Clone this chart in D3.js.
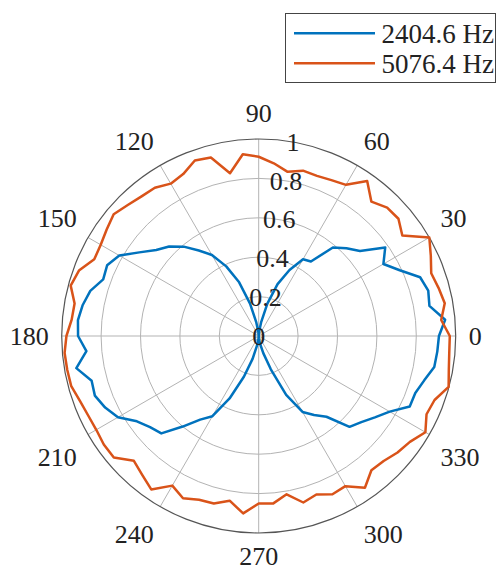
<!DOCTYPE html>
<html>
<head>
<meta charset="utf-8">
<script src="https://cdn.jsdelivr.net/npm/d3@7"></script>
<style>
  html, body { margin: 0; padding: 0; background: #fff; }
  svg { display: block; }
  text { font-family: "Liberation Serif", "Times New Roman", serif; fill: #222; }
</style>
</head>
<body>
<svg id="chart" width="497" height="571"></svg>
<script>
// Sample angles in degrees (counter-clockwise from east)
const angles = d3.range(0, 360, 5);

// Normalised response at 2404.6 Hz
const low = [
  0.915, 0.95, 0.88, 0.891, 0.872, 0.79, 0.731, 0.784, 0.671, 0.63, 0.586, 0.462,
  0.45, 0.37, 0.28, 0.17, 0.07, 0.02, 0.0, 0.02, 0.07, 0.17, 0.29, 0.39,
  0.475, 0.53, 0.592, 0.643, 0.679, 0.74, 0.817, 0.849, 0.84, 0.885, 0.907, 0.921,
  0.917, 0.878, 0.94, 0.878, 0.885, 0.86, 0.825, 0.755, 0.72, 0.699, 0.6, 0.518,
  0.47, 0.35, 0.22, 0.12, 0.05, 0.015, 0.0, 0.015, 0.04, 0.09, 0.18, 0.33,
  0.445, 0.49, 0.535, 0.652, 0.68, 0.72, 0.768, 0.846, 0.846, 0.87, 0.905, 0.91
];

// Normalised response at 5076.4 Hz
const high = [
  0.97, 0.93, 0.959, 0.945, 0.932, 0.964, 1.0, 0.89, 0.926, 0.922, 0.89, 0.96,
  0.886, 0.873, 0.865, 0.869, 0.846, 0.88, 0.91, 0.926, 0.839, 0.938, 0.948, 0.907,
  0.893, 0.919, 0.925, 0.94, 0.961, 0.942, 0.926, 0.921, 0.971, 0.988, 0.949, 0.953,
  0.976, 0.989, 0.987, 0.985, 0.965, 0.955, 0.952, 0.96, 0.96, 0.896, 0.92, 0.951,
  0.877, 0.909, 0.885, 0.88, 0.849, 0.904, 0.85, 0.853, 0.816, 0.875, 0.856, 0.886,
  0.88, 0.94, 0.89, 0.897, 0.92, 0.937, 0.977, 0.94, 0.95, 0.998, 0.98, 0.971
];

const seriesNames = ["2404.6 Hz", "5076.4 Hz"];
const seriesColors = ["#0072BD", "#D95319"];

const rTicks = [0, 0.2, 0.4, 0.6, 0.8, 1];
const rTickLabels = ["0", "0.2", "0.4", "0.6", "0.8", "1"];
const thetaTicks = d3.range(0, 360, 30);
const thetaTickLabels = thetaTicks.map(String);

const W = 497, H = 571;
const svg = d3.select("#chart");
const cx = 258.7, cy = 336, R = 197;
const fs = 26;        // axis label size
const legendFs = 27;  // legend label size

const r = d3.scaleLinear().domain([0, 1]).range([0, R]);
const toRad = d => d * Math.PI / 180;
const g = svg.append("g").attr("transform", `translate(${cx},${cy})`);

// Grid rings
g.selectAll("circle.ring").data(rTicks.filter(v => v > 0 && v < 1)).join("circle")
  .attr("class", "ring").attr("r", d => r(d))
  .attr("fill", "none").attr("stroke", "#b3b3b3").attr("stroke-width", 1);

// Spokes
g.selectAll("line.spoke").data(thetaTicks).join("line")
  .attr("class", "spoke")
  .attr("x1", 0).attr("y1", 0)
  .attr("x2", d => r(1) * Math.cos(toRad(d)))
  .attr("y2", d => -r(1) * Math.sin(toRad(d)))
  .attr("stroke", "#b3b3b3").attr("stroke-width", 1);

// Outer boundary
g.append("circle").attr("r", r(1))
  .attr("fill", "none").attr("stroke", "#555").attr("stroke-width", 1.2);

// Data curves
const radial = d3.lineRadial()
  .angle(d => toRad(90 - d[0]))
  .radius(d => r(d[1]))
  .curve(d3.curveLinearClosed);

[low, high].forEach((vals, i) => {
  g.append("path")
    .datum(angles.map((a, k) => [a, vals[k]]))
    .attr("d", radial)
    .attr("fill", "none")
    .attr("stroke", seriesColors[i])
    .attr("stroke-width", 2.5)
    .attr("stroke-linejoin", "round");
});

// Radial tick labels along the 80 degree direction
const rAxisAngle = 80;
g.selectAll("text.rtick").data(rTicks).join("text")
  .attr("class", "rtick")
  .attr("x", d => r(d) * Math.cos(toRad(rAxisAngle)))
  .attr("y", d => -r(d) * Math.sin(toRad(rAxisAngle)) + fs * 0.34)
  .attr("text-anchor", "middle")
  .attr("font-size", fs)
  .text((d, i) => rTickLabels[i]);

// Angle labels: anchored just outside the rim, aligned away from the centre
const labelDist = 210;
const maxBaseline = H - cy - 6;   // keep the bottom label inside the canvas
g.selectAll("text.ttick").data(thetaTicks).join("text")
  .attr("class", "ttick")
  .attr("font-size", fs)
  .attr("text-anchor", d => {
    const c = Math.cos(toRad(d));
    return Math.abs(c) < 1e-6 ? "middle" : (c > 0 ? "start" : "end");
  })
  .attr("x", d => labelDist * Math.cos(toRad(d)))
  .attr("y", d => {
    const s = Math.sin(toRad(d));
    const py = -labelDist * s;
    if (Math.abs(s) < 1e-6) return py + 9;
    return s > 0 ? py - 4.3 : Math.min(py + 25, maxBaseline);
  })
  .text((d, i) => thetaTickLabels[i]);

// Legend
const lg = svg.append("g");
lg.append("rect")
  .attr("x", 285.5).attr("y", 13.5).attr("width", 210).attr("height", 69)
  .attr("fill", "#fff").attr("stroke", "#444").attr("stroke-width", 1);
seriesNames.forEach((name, i) => {
  const y = 33.3 + i * 30;
  lg.append("line")
    .attr("x1", 294).attr("x2", 375).attr("y1", y).attr("y2", y)
    .attr("stroke", seriesColors[i]).attr("stroke-width", 2.5);
  lg.append("text")
    .attr("x", 381.5).attr("y", y + 10)
    .attr("font-size", legendFs)
    .text(name);
});
</script>
</body>
</html>
